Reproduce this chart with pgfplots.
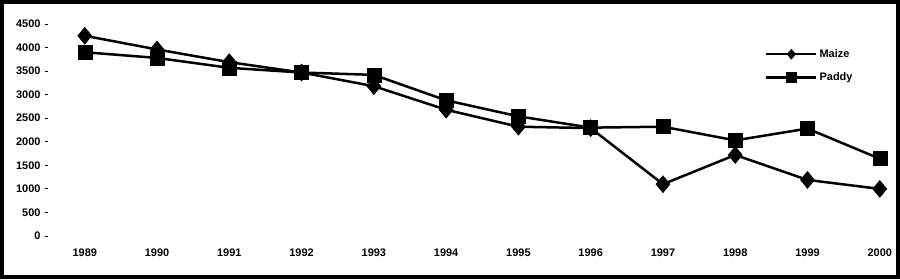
\documentclass[border=0pt]{standalone}
\usepackage{fontspec}
\setmainfont{Liberation Sans}
\usepackage{pgfplots}
\pgfplotsset{compat=1.18}
\begin{document}
\begin{tikzpicture}[x=1bp,y=1bp]
\path[use as bounding box] (0,0) rectangle (900,279);
\draw[line width=4bp] (2,2) rectangle (898,277);
\begin{axis}[
  at={(45bp,43bp)}, anchor=south west,
  scale only axis, width=842bp, height=212bp,
  xmin=-0.55, xmax=11.1, ymin=0, ymax=4500,
  clip=false,
  xtick={0,...,11},
  xticklabels={1989,1990,1991,1992,1993,1994,1995,1996,1997,1998,1999,2000},
  ytick={0,500,...,4500},
  ytick pos=left,
  axis line style={draw=none},
  x tick style={draw=none},
  y tick style={black, line width=0.8bp},
  major tick length=3bp,
  tick align=inside,
  ticklabel style={font=\fontsize{11}{12}\selectfont\bfseries},
  yticklabel style={xshift=-1bp},
  xticklabel style={yshift=-9bp},
  /pgf/number format/assume math mode=true,
  /pgf/number format/1000 sep={},
  legend style={at={(0.855,0.89)}, anchor=north west, draw=none, fill=none,
    font=\fontsize{11}{12}\selectfont\bfseries, row sep=10bp, inner sep=0pt},
  legend cell align=left,
  legend image code/.code={\draw[black,line width=2.5bp] (0bp,0bp) -- (50bp,0bp); \draw[#1,mark size=5bp] plot coordinates {(25bp,0bp)};},
]
\addplot[black, line width=2.5bp, mark=diamond*, mark size=8.5bp, mark options={solid,fill=black,line width=0.5bp,xscale=1.1}]
 coordinates {(0,4250) (1,3960) (2,3690) (3,3470) (4,3180) (5,2680) (6,2320) (7,2290) (8,1100) (9,1720) (10,1190) (11,1000)};
\addlegendentry{Maize}
\addplot[black, line width=2.5bp, mark=square*, mark size=7bp, mark options={solid,fill=black,line width=0.5bp}]
 coordinates {(0,3900) (1,3780) (2,3570) (3,3470) (4,3420) (5,2880) (6,2540) (7,2300) (8,2320) (9,2030) (10,2280) (11,1640)};
\addlegendentry{Paddy}
\end{axis}
\end{tikzpicture}
\end{document}
